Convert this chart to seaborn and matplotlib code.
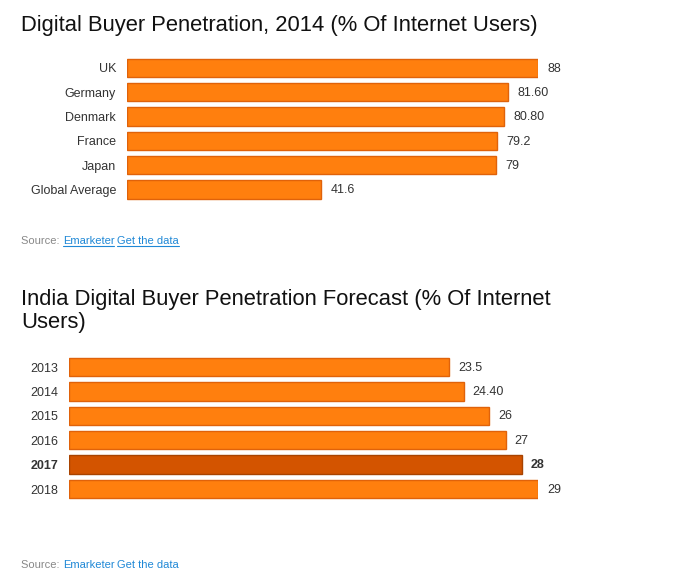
import matplotlib
matplotlib.use("Agg")
import matplotlib.pyplot as plt
import seaborn as sns
import pandas as pd
from matplotlib.lines import Line2D

# datos del primer grafico
paises = ["UK", "Germany", "Denmark", "France", "Japan", "Global Average"]
valores_paises = ["88", "81.60", "80.80", "79.2", "79", "41.6"]

# datos del segundo grafico
anios = ["2013", "2014", "2015", "2016", "2017", "2018"]
valores_india = ["23.5", "24.40", "26", "27", "28", "29"]
anio_destacado = "2017"

titulo1 = "Digital Buyer Penetration, 2014 (% Of Internet Users)"
titulo2 = "India Digital Buyer Penetration Forecast (% Of Internet\nUsers)"

NARANJA = "#ff7f0e"
BORDE = "#e0620a"
OSCURO = "#d35400"
BORDE_OSCURO = "#a84300"
GRIS = "#333333"
AZUL = "#1f88d6"

sns.set_style("white")
plt.rcParams["font.family"] = ["Liberation Sans", "DejaVu Sans"]

W, H = 687, 570
fig = plt.figure(figsize=(W / 100, H / 100), dpi=100)


def caja(left, top, right, bottom):
    return fig.add_axes([left / W, 1 - bottom / H, (right - left) / W, (bottom - top) / H])


def barras(ax, etiquetas, textos, destacado=None):
    df = pd.DataFrame({"etiqueta": etiquetas, "valor": [float(t) for t in textos]})
    colores = [OSCURO if e == destacado else NARANJA for e in etiquetas]
    sns.barplot(data=df, x="valor", y="etiqueta", hue="etiqueta", palette=colores,
                legend=False, width=0.75, orient="h", ax=ax, saturation=1)
    for p, e in zip(ax.patches, etiquetas):
        p.set_edgecolor(BORDE_OSCURO if e == destacado else BORDE)
        p.set_linewidth(1)
    for i, (e, t) in enumerate(zip(etiquetas, textos)):
        peso = "bold" if e == destacado else "normal"
        ax.annotate(t, (float(t), i), xytext=(6.5, -0.5), textcoords="offset points",
                    va="center", ha="left", fontsize=9, color=GRIS, fontweight=peso)
    ax.set_xlim(0, max(df["valor"]))
    ax.set_xticks([])
    ax.set_xlabel("")
    ax.set_ylabel("")
    ax.tick_params(axis="y", length=0, pad=8, labelsize=9, labelcolor=GRIS)
    for lbl in ax.get_yticklabels():
        if lbl.get_text() == destacado:
            lbl.set_fontweight("bold")
    sns.despine(ax=ax, left=True, bottom=True)


ax1 = caja(127, 55.8, 538, 201.6)
barras(ax1, paises, valores_paises)

ax2 = caja(69, 354.8, 538, 501.2)
barras(ax2, anios, valores_india, anio_destacado)

fig.text(21 / W, 1 - 25 / H, titulo1, fontsize=15.8, color="#111111", va="center")
fig.text(21 / W, 1 - 311 / H, titulo2, fontsize=15.8, color="#111111", va="center",
         linespacing=1.15)

fig.canvas.draw()
rend = fig.canvas.get_renderer()


def fuente(y, subrayar):
    x = 21
    partes = [("Source: ", "#888888", False), ("Emarketer", AZUL, subrayar),
              (" ", AZUL, False), ("Get the data", AZUL, subrayar)]
    for texto, color, sub in partes:
        t = fig.text(x / W, 1 - y / H, texto, fontsize=8, color=color, va="center")
        bb = t.get_window_extent(renderer=rend)
        if sub:
            yl = bb.y0 + 0.5
            fig.add_artist(Line2D([bb.x0 / W, bb.x1 / W], [yl / H, yl / H],
                                  color=color, linewidth=0.8))
        x = bb.x1


fuente(241, True)
fuente(565, False)

fig.savefig("out.png", dpi=100)
